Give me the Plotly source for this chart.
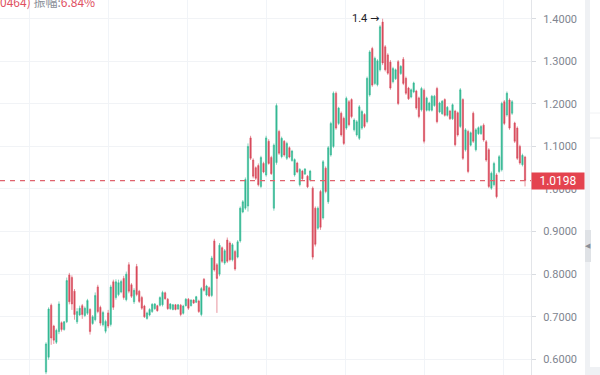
import plotly.graph_objects as go

# ---------------- data ----------------
opens = [0.570, 0.605, 0.727, 0.678, 0.640, 0.665, 0.686, 0.670, 0.688, 0.798,
         0.792, 0.760, 0.688, 0.704, 0.726, 0.703, 0.708, 0.717, 0.684, 0.693,
         0.770, 0.722, 0.681, 0.666, 0.709, 0.682, 0.782, 0.745, 0.752, 0.758,
         0.790, 0.740, 0.822, 0.775, 0.735, 0.818, 0.760, 0.745, 0.725, 0.696,
         0.704, 0.712, 0.719, 0.726, 0.727, 0.728, 0.756, 0.741, 0.719, 0.717,
         0.728, 0.718, 0.727, 0.708, 0.726, 0.741, 0.726, 0.739, 0.734, 0.737,
         0.705, 0.788, 0.751, 0.768, 0.750, 0.878, 0.822, 0.800, 0.862, 0.826,
         0.880, 0.873, 0.834, 0.853, 0.840, 0.878, 0.946, 0.955, 0.960, 1.120,
         1.068, 1.050, 1.055, 1.006, 1.060, 1.033, 1.112, 1.074, 0.955, 1.062,
         1.135, 1.076, 1.112, 1.072, 1.097, 1.067, 1.033, 1.061, 1.010, 1.042,
         1.035, 1.030, 1.021, 1.002, 0.955, 0.908, 0.994, 0.932, 1.049, 0.970,
         1.080, 1.100, 1.225, 1.154, 1.178, 1.166, 1.143, 1.205, 1.210, 1.139,
         1.127, 1.119, 1.143, 1.175, 1.158, 1.221, 1.330, 1.248, 1.245, 1.280,
         1.392, 1.334, 1.315, 1.298, 1.252, 1.259, 1.299, 1.271, 1.305, 1.260,
         1.237, 1.216, 1.228, 1.230, 1.214, 1.186, 1.232, 1.185, 1.185, 1.185,
         1.196, 1.236, 1.181, 1.177, 1.210, 1.173, 1.183, 1.165, 1.183, 1.179,
         1.147, 1.210, 1.092, 1.135, 1.103, 1.178, 1.092, 1.130, 1.130, 1.150,
         1.111, 1.092, 1.002, 1.010, 1.033, 1.041, 1.045, 1.205, 1.174, 1.209,
         1.178, 1.155, 1.143, 1.100, 1.057, 1.075]
highs = [0.640, 0.722, 0.731, 0.681, 0.672, 0.736, 0.689, 0.690, 0.792, 0.803,
         0.797, 0.765, 0.720, 0.726, 0.730, 0.724, 0.742, 0.720, 0.704, 0.757,
         0.775, 0.726, 0.714, 0.693, 0.716, 0.775, 0.787, 0.788, 0.787, 0.787,
         0.796, 0.806, 0.828, 0.779, 0.767, 0.824, 0.763, 0.749, 0.728, 0.712,
         0.720, 0.732, 0.732, 0.728, 0.748, 0.761, 0.759, 0.744, 0.732, 0.730,
         0.730, 0.730, 0.730, 0.728, 0.744, 0.744, 0.741, 0.741, 0.749, 0.740,
         0.770, 0.791, 0.775, 0.771, 0.843, 0.883, 0.826, 0.873, 0.865, 0.859,
         0.886, 0.877, 0.873, 0.857, 0.880, 0.959, 0.974, 1.027, 1.107, 1.125,
         1.072, 1.053, 1.060, 1.078, 1.064, 1.125, 1.117, 1.078, 1.107, 1.201,
         1.139, 1.123, 1.115, 1.111, 1.100, 1.092, 1.072, 1.064, 1.049, 1.045,
         1.049, 1.033, 1.045, 1.006, 0.959, 0.959, 0.998, 1.068, 1.053, 1.101,
         1.158, 1.229, 1.229, 1.193, 1.182, 1.170, 1.217, 1.209, 1.213, 1.166,
         1.162, 1.197, 1.186, 1.178, 1.264, 1.326, 1.334, 1.311, 1.305, 1.385,
         1.400, 1.338, 1.319, 1.303, 1.287, 1.283, 1.303, 1.291, 1.310, 1.264,
         1.240, 1.236, 1.252, 1.233, 1.217, 1.240, 1.236, 1.217, 1.205, 1.221,
         1.221, 1.240, 1.205, 1.209, 1.213, 1.195, 1.186, 1.201, 1.186, 1.182,
         1.237, 1.213, 1.143, 1.139, 1.135, 1.182, 1.143, 1.147, 1.150, 1.154,
         1.115, 1.096, 1.041, 1.064, 1.037, 1.080, 1.205, 1.209, 1.229, 1.213,
         1.209, 1.158, 1.147, 1.104, 1.083, 1.078]
lows = [0.565, 0.599, 0.634, 0.636, 0.636, 0.659, 0.665, 0.667, 0.685, 0.729,
        0.716, 0.693, 0.683, 0.702, 0.695, 0.699, 0.704, 0.658, 0.681, 0.689,
        0.708, 0.679, 0.677, 0.661, 0.673, 0.677, 0.716, 0.740, 0.748, 0.755,
        0.740, 0.736, 0.755, 0.744, 0.730, 0.748, 0.732, 0.716, 0.697, 0.693,
        0.701, 0.709, 0.716, 0.712, 0.724, 0.724, 0.740, 0.716, 0.716, 0.715,
        0.715, 0.716, 0.701, 0.705, 0.724, 0.716, 0.724, 0.730, 0.732, 0.709,
        0.701, 0.759, 0.748, 0.746, 0.746, 0.806, 0.709, 0.795, 0.826, 0.822,
        0.826, 0.830, 0.830, 0.808, 0.837, 0.874, 0.943, 0.951, 0.947, 1.068,
        1.025, 1.021, 1.006, 1.002, 1.037, 1.029, 1.057, 1.033, 0.949, 1.057,
        1.080, 1.072, 1.076, 1.068, 1.072, 1.064, 1.029, 1.037, 1.006, 1.021,
        1.033, 1.002, 1.018, 0.834, 0.865, 0.904, 0.904, 0.928, 0.990, 0.965,
        1.076, 1.096, 1.139, 1.150, 1.123, 1.103, 1.139, 1.147, 1.166, 1.135,
        1.123, 1.115, 1.139, 1.143, 1.154, 1.217, 1.240, 1.244, 1.241, 1.276,
        1.291, 1.276, 1.268, 1.233, 1.248, 1.256, 1.197, 1.268, 1.244, 1.221,
        1.209, 1.213, 1.225, 1.186, 1.166, 1.182, 1.107, 1.182, 1.182, 1.182,
        1.193, 1.154, 1.178, 1.174, 1.170, 1.170, 1.162, 1.162, 1.100, 1.123,
        1.143, 1.068, 1.088, 1.037, 1.100, 1.108, 1.088, 1.127, 1.127, 1.111,
        1.064, 1.002, 0.998, 1.006, 0.978, 1.037, 1.041, 1.150, 1.170, 1.139,
        1.174, 1.108, 1.068, 1.057, 1.053, 1.006]
closes = [0.636, 0.718, 0.650, 0.645, 0.668, 0.730, 0.670, 0.688, 0.785, 0.735,
          0.730, 0.705, 0.712, 0.720, 0.705, 0.720, 0.738, 0.665, 0.700, 0.750,
          0.712, 0.685, 0.710, 0.689, 0.678, 0.770, 0.722, 0.782, 0.780, 0.783,
          0.745, 0.800, 0.760, 0.748, 0.762, 0.752, 0.736, 0.720, 0.700, 0.709,
          0.717, 0.729, 0.730, 0.714, 0.745, 0.757, 0.742, 0.719, 0.730, 0.728,
          0.717, 0.728, 0.705, 0.725, 0.741, 0.720, 0.739, 0.732, 0.747, 0.712,
          0.766, 0.762, 0.772, 0.749, 0.838, 0.810, 0.790, 0.868, 0.830, 0.855,
          0.830, 0.834, 0.869, 0.812, 0.876, 0.955, 0.970, 1.022, 1.100, 1.072,
          1.030, 1.025, 1.010, 1.074, 1.040, 1.120, 1.060, 1.036, 1.103, 1.196,
          1.084, 1.119, 1.080, 1.107, 1.075, 1.089, 1.069, 1.040, 1.046, 1.024,
          1.047, 1.005, 1.042, 0.840, 0.870, 0.955, 0.910, 1.064, 0.994, 1.097,
          1.154, 1.225, 1.143, 1.190, 1.127, 1.107, 1.213, 1.151, 1.170, 1.162,
          1.158, 1.193, 1.182, 1.147, 1.260, 1.322, 1.244, 1.307, 1.301, 1.381,
          1.296, 1.280, 1.272, 1.237, 1.283, 1.280, 1.201, 1.288, 1.248, 1.225,
          1.212, 1.233, 1.249, 1.190, 1.170, 1.236, 1.112, 1.214, 1.202, 1.218,
          1.218, 1.158, 1.202, 1.206, 1.173, 1.192, 1.165, 1.198, 1.104, 1.127,
          1.233, 1.072, 1.139, 1.041, 1.132, 1.112, 1.139, 1.144, 1.147, 1.115,
          1.068, 1.006, 1.037, 1.060, 0.982, 1.076, 1.201, 1.154, 1.225, 1.143,
          1.205, 1.112, 1.072, 1.061, 1.079, 1.0198]

y_ticks = [0.6, 0.7, 0.8, 0.9, 1.0, 1.1, 1.2, 1.3, 1.4]
last_price = 1.0198
peak_label = "1.4"
header_code = "0464)"
header_amp_label = "振幅:"
header_amp_value = "6.84%"

x = list(range(len(opens)))
peak_idx = highs.index(max(highs))

# ---------------- figure ----------------
GREEN = "#34b894"
RED = "#d84b5c"

fig = go.Figure()
fig.add_trace(go.Candlestick(
    x=x, open=opens, high=highs, low=lows, close=closes,
    increasing=dict(line=dict(color=GREEN, width=0.6), fillcolor=GREEN),
    decreasing=dict(line=dict(color=RED, width=0.6), fillcolor=RED),
    whiskerwidth=0, showlegend=False, hoverinfo="skip",
))

W, H = 600, 375
PLOT_R = 531
def px(v):
    return v / PLOT_R
def py(v):
    return 1 - v / H

shapes = [
    # last price dashed line
    dict(type="line", xref="paper", yref="y", x0=0, x1=1, y0=last_price, y1=last_price,
         line=dict(color="#e0636e", width=1.3, dash="5px,5px"), layer="above"),
    # right side strip
    dict(type="rect", xref="paper", yref="paper", x0=px(585), x1=px(590), y0=0, y1=1,
         fillcolor="#eff1f4", line=dict(width=0), layer="below"),
    dict(type="rect", xref="paper", yref="paper", x0=px(585), x1=px(600), y0=py(375), y1=py(367),
         fillcolor="#eff1f4", line=dict(width=0), layer="below"),
    dict(type="rect", xref="paper", yref="paper", x0=px(585), x1=px(591), y0=py(262), y1=py(230),
         fillcolor="#dfe2e6", line=dict(width=0), layer="above"),
    dict(type="line", xref="paper", yref="paper", x0=px(590), x1=px(600), y0=py(138), y1=py(138),
         line=dict(color="#e6e8eb", width=1)),
    dict(type="line", xref="paper", yref="paper", x0=px(590), x1=px(600), y0=py(113), y1=py(113),
         line=dict(color="#f1f2f4", width=1)),
]

annotations = [
    dict(xref="paper", yref="paper", x=0, y=1, xanchor="left", yanchor="middle",
         xshift=-2, yshift=-1, showarrow=False,
         text=(f"<span style='color:#e0505f'>{header_code}</span> "
               f"<span style='color:#8a8f98'>{header_amp_label}</span>"
               f"<span style='color:#e0505f'>{header_amp_value}</span>"),
         font=dict(family="Noto Sans CJK SC", size=12)),
    dict(xref="x", yref="y", x=peak_idx, y=max(highs), xanchor="right", yanchor="middle",
         xshift=-2, showarrow=False,
         text=f"{peak_label} <span style='font-family:DejaVu Sans'>→</span>",
         font=dict(family="Roboto", size=11, color="#1e2126")),
    dict(xref="paper", yref="y", x=1, y=last_price, xanchor="left", yanchor="middle",
         showarrow=False, text=f"{last_price:.4f}", bgcolor="#e4434f",
         width=50, height=14, borderpad=1, align="center",
         font=dict(family="Roboto", size=12, color="#ffffff")),
    dict(xref="paper", yref="paper", x=px(588), y=py(246), xanchor="center", yanchor="middle",
         showarrow=False, text="◀", font=dict(size=7, color="#8a8f98")),
]

xgrid = [-6.2, 24.25, 54.7, 85.15, 115.6, 146.05, 176.5]

fig.update_layout(
    width=W, height=H,
    margin=dict(l=0, r=W - PLOT_R, t=0, b=0),
    paper_bgcolor="#ffffff", plot_bgcolor="#ffffff",
    shapes=shapes, annotations=annotations,
    xaxis=dict(range=[-17.77, 187.3], rangeslider=dict(visible=False),
               showticklabels=False, tickvals=xgrid, ticks="",
               showgrid=True, gridcolor="#f1f4f8", gridwidth=1, zeroline=False,
               showline=False, fixedrange=True),
    yaxis=dict(side="right", range=[0.5631, 1.4439], tickvals=y_ticks,
               tickformat=".4f", ticks="outside", ticklen=4, tickcolor="#d9dce1",
               ticklabelstandoff=5,
               tickfont=dict(family="Roboto", size=11, color="#80858f"),
               showgrid=True, gridcolor="#f1f3f6", gridwidth=1, zeroline=False,
               showline=True, linecolor="#e3e5e9", linewidth=1, fixedrange=True),
    font=dict(family="Roboto"),
)

fig.write_html("out.html", config={"displayModeBar": False},
               post_script="document.body.style.margin='0';document.body.style.overflow='hidden';")
